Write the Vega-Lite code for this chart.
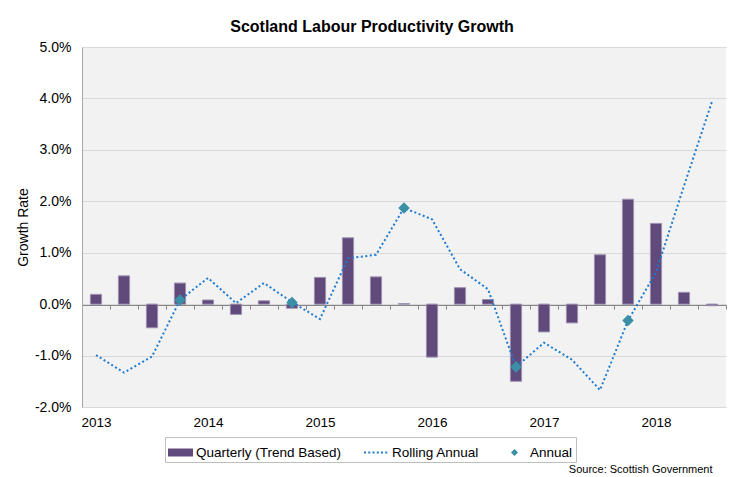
{
  "$schema": "https://vega.github.io/schema/vega-lite/v6.json",
  "width": 644,
  "height": 360,
  "autosize": {"type": "none"},
  "padding": {"left": 82, "top": 47, "right": 8, "bottom": 70},
  "background": "white",
  "title": {
    "text": "Scotland Labour Productivity Growth",
    "font": "Liberation Sans",
    "fontSize": 16,
    "fontWeight": "bold",
    "color": "#000000",
    "anchor": "middle",
    "dx": -32,
    "dy": 23,
    "baseline": "alphabetic",
    "offset": 15
  },
  "config": {
    "font": "Liberation Sans",
    "view": {"fill": "#f2f2f2", "stroke": null}
  },
  "data": {
    "values": [
      {"q": "2013 Q1", "quarterly": 0.0019, "rolling": -0.0099, "annual": null},
      {"q": "2013 Q2", "quarterly": 0.0055, "rolling": -0.0133, "annual": null},
      {"q": "2013 Q3", "quarterly": -0.0046, "rolling": -0.0102, "annual": null},
      {"q": "2013 Q4", "quarterly": 0.0041, "rolling": 0.0008, "annual": 0.0008},
      {"q": "2014 Q1", "quarterly": 0.0008, "rolling": 0.0051, "annual": null},
      {"q": "2014 Q2", "quarterly": -0.002, "rolling": 0.0002, "annual": null},
      {"q": "2014 Q3", "quarterly": 0.00065, "rolling": 0.0041, "annual": null},
      {"q": "2014 Q4", "quarterly": -0.0008, "rolling": 0.0004, "annual": 0.0003},
      {"q": "2015 Q1", "quarterly": 0.0052, "rolling": -0.0029, "annual": null},
      {"q": "2015 Q2", "quarterly": 0.0129, "rolling": 0.0089, "annual": null},
      {"q": "2015 Q3", "quarterly": 0.0053, "rolling": 0.0096, "annual": null},
      {"q": "2015 Q4", "quarterly": 0.0001, "rolling": 0.0187, "annual": 0.0187},
      {"q": "2016 Q1", "quarterly": -0.0103, "rolling": 0.0165, "annual": null},
      {"q": "2016 Q2", "quarterly": 0.0032, "rolling": 0.0068, "annual": null},
      {"q": "2016 Q3", "quarterly": 0.0009, "rolling": 0.0029, "annual": null},
      {"q": "2016 Q4", "quarterly": -0.015, "rolling": -0.0122, "annual": -0.0122},
      {"q": "2017 Q1", "quarterly": -0.0054, "rolling": -0.0075, "annual": null},
      {"q": "2017 Q2", "quarterly": -0.00365, "rolling": -0.0108, "annual": null},
      {"q": "2017 Q3", "quarterly": 0.0096, "rolling": -0.0167, "annual": null},
      {"q": "2017 Q4", "quarterly": 0.0204, "rolling": -0.0032, "annual": -0.0032},
      {"q": "2018 Q1", "quarterly": 0.0157, "rolling": 0.0062, "annual": null},
      {"q": "2018 Q2", "quarterly": 0.0023, "rolling": 0.023, "annual": null},
      {"q": "2018 Q3", "quarterly": -0.0003, "rolling": 0.0394, "annual": null}
    ]
  },
  "encoding": {
    "x": {
      "field": "q",
      "type": "ordinal",
      "sort": null,
      "scale": {"paddingInner": 0, "paddingOuter": 0},
      "axis": {
        "orient": "bottom",
        "offset": -102,
        "domainColor": "#868686",
        "domainWidth": 1,
        "ticks": true,
        "tickBand": "extent",
        "tickSize": 4,
        "tickColor": "#868686",
        "labelAngle": 0,
        "labelFontSize": 13.5,
        "labelColor": "#000000",
        "labelPadding": 106,
        "labelExpr": "isString(datum.value) && slice(datum.value, 5) == 'Q1' ? slice(datum.value, 0, 4) : ''",
        "grid": false,
        "title": "Source: Scottish Government",
        "titleFontSize": 11,
        "titleFontWeight": "normal",
        "titleColor": "#000000",
        "titleAnchor": "end",
        "titleAlign": "right",
        "titleBaseline": "alphabetic",
        "titleX": 630,
        "titleY": 167
      }
    }
  },
  "layer": [
    {
      "mark": {"type": "bar", "color": "#604a7b", "stroke": "#9d90b2", "strokeWidth": 1, "width": {"band": 0.4}},
      "encoding": {
        "y": {
          "field": "quarterly",
          "type": "quantitative",
          "scale": {"domain": [-0.02, 0.05], "nice": false},
          "axis": {
            "values": [-0.02, -0.01, 0, 0.01, 0.02, 0.03, 0.04, 0.05],
            "format": ".1%",
            "labelExpr": "replace(datum.label, '\u2212', '-')",
            "labelFontSize": 14,
            "labelColor": "#000000",
            "labelPadding": 11,
            "ticks": false,
            "domain": true,
            "domainColor": "#a6a6a6",
            "gridColor": "#d9d9d9",
            "gridWidth": 1,
            "title": "Growth Rate",
            "titleFontSize": 14,
            "titleFontWeight": "normal",
            "titleColor": "#000000",
            "titlePadding": 4
          }
        }
      }
    },
    {
      "mark": {"type": "line", "color": "#1f7bd0", "strokeWidth": 2, "strokeDash": [2, 2.5], "strokeCap": "butt"},
      "encoding": {"y": {"field": "rolling", "type": "quantitative"}}
    },
    {
      "transform": [{"filter": "datum.annual != null"}],
      "mark": {"type": "point", "filled": true, "opacity": 1, "size": 1700, "strokeWidth": 0},
      "encoding": {
        "y": {"field": "annual", "type": "quantitative"},
        "color": {
          "datum": "Annual",
          "scale": {"domain": ["Quarterly (Trend Based)", "Rolling Annual", "Annual"], "range": ["#604a7b", "#1f7bd0", "#3a8fa6"]},
          "legend": {
            "orient": "none",
            "legendX": 83,
            "legendY": 390,
            "direction": "horizontal",
            "title": null,
            "padding": 3,
            "strokeColor": "#bfbfbf",
            "fillColor": "white",
            "symbolSize": 625,
            "symbolStrokeWidth": 0,
            "symbolOpacity": 1,
            "labelFontSize": 13.5,
            "labelColor": "#000000",
            "labelOffset": 3,
            "columnPadding": 22,
            "labelLimit": 300
          }
        },
        "shape": {
          "datum": "Annual",
          "scale": {
            "domain": ["Quarterly (Trend Based)", "Rolling Annual", "Annual"],
            "range": [
              "M-1,-0.32H1V0.32H-1Z",
              "M-1,-0.08h0.16v0.16h-0.16zM-0.66,-0.08h0.16v0.16h-0.16zM-0.32,-0.08h0.16v0.16h-0.16zM0.02,-0.08h0.16v0.16h-0.16zM0.36,-0.08h0.16v0.16h-0.16zM0.7,-0.08h0.16v0.16h-0.16z",
              "M0,-0.28L0.28,0L0,0.28L-0.28,0Z"
            ]
          }
        }
      }
    }
  ]
}
